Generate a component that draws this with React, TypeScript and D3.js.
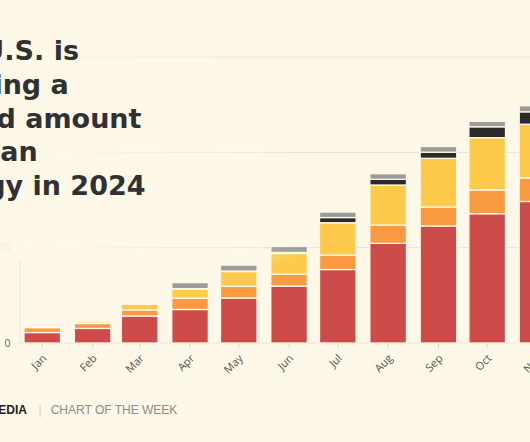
import React from "react";
import * as d3 from "d3";

const months = ["Jan","Feb","Mar","Apr","May","Jun","Jul","Aug","Sep","Oct","Nov"];
const monthIndex = [0,1,2,3,4,5,6,7,8,9,10];
const seriesKeys = ["red","orange","yellow","black","grey"];
const redValues    = [2.2, 3.06, 5.67, 7.03, 9.44, 11.96, 15.42, 20.92, 24.55, 27.14, 29.7];
const orangeValues = [1.0, 1.03, 1.26, 2.35, 2.46, 2.46, 3.04, 3.84, 3.99, 4.97, 4.93];
const yellowValues = [0, 0.32, 1.2, 1.95, 3.11, 4.37, 6.78, 8.39, 10.22, 10.98, 11.29];
const blackValues  = [0, 0, 0, 0.08, 0.08, 0.21, 1.09, 1.2, 1.28, 2.29, 2.6];
const greyValues   = [0, 0, 0, 1.26, 1.26, 1.26, 1.15, 1.18, 1.2, 1.15, 1.28];
const yTicks = [0, 20, 40, 60];
const titleLines = ["The U.S. is", "building a", "record amount", "of clean", "energy in 2024"];

const W = 530, H = 442;
const BG = "#FDF8E8";
const colors: Record<string, string> = {
  red: "#CD4C49",
  orange: "#F99A42",
  yellow: "#FFCA4B",
  black: "#2B2A29",
  grey: "#9C9B97",
};

export default function App() {
  const rows = months.map((m, i) => ({
    month: m,
    date: new Date(2024, monthIndex[i], 1),
    red: redValues[i],
    orange: orangeValues[i],
    yellow: yellowValues[i],
    black: blackValues[i],
    grey: greyValues[i],
  }));
  const stacked = d3.stack<any>().keys(seriesKeys)(rows);

  const x = d3
    .scaleTime()
    .domain([new Date(2024, 0, 1), new Date(2024, 9, 1)])
    .range([42.3, 487.2]);
  const y = d3.scaleLinear().domain([0, 60]).range([343, 57.1]);
  const barW = 36.6;

  return (
    <svg
      width={W}
      height={H}
      style={{ position: "absolute", left: 0, top: 0, background: BG }}
    >
      <defs>
        <linearGradient id="fade" x1="0" x2="1" y1="0" y2="0">
          <stop offset="0" stopColor={BG} stopOpacity={0.93} />
          <stop offset="0.3" stopColor={BG} stopOpacity={0.8} />
          <stop offset="1" stopColor={BG} stopOpacity={0} />
        </linearGradient>
      </defs>
      <rect x={0} y={0} width={W} height={H} fill={BG} />
      {/* gridlines */}
      {yTicks.map((t) => (
        <line key={t} x1={18} x2={W} y1={y(t)} y2={y(t)} stroke="#EAE5E4" strokeWidth={1.2} />
      ))}
      <line x1={20} x2={20} y1={y(60)} y2={y(0)} stroke="#ECE8E2" strokeWidth={1} />
      {yTicks.map((t) => (
        <text key={"l" + t} x={10.5} y={y(t)} dy="0.35em" textAnchor="end"
          fontFamily="Open Sans, sans-serif" fontSize={10.5} fill="#666">{t}</text>
      ))}
      {/* x ticks */}
      {rows.map((r) => (
        <line key={"t" + r.month} x1={x(r.date)} x2={x(r.date)} y1={344} y2={348} stroke="#DDD9D0" />
      ))}
      {/* bars */}
      {stacked.map((s) => (
        <g key={s.key} fill={colors[s.key]}>
          {s.map((d: any, i: number) =>
            d[1] - d[0] > 0 ? (
              <rect
                key={i}
                x={x(rows[i].date) - barW / 2}
                y={y(d[1])}
                width={barW}
                height={y(d[0]) - y(d[1])}
                stroke={BG}
                strokeWidth={1.3}
              />
            ) : null
          )}
        </g>
      ))}
      {/* month labels */}
      {rows.map((r) => (
        <text key={"m" + r.month}
          transform={`translate(${x(r.date) + 5},359) rotate(-45)`}
          textAnchor="end" fontFamily="Open Sans, sans-serif" fontSize={11} fill="#555">
          {r.month}
        </text>
      ))}
      {/* title fade overlay */}
      <rect x={0} y={0} width={300} height={261} fill="url(#fade)" />
      {titleLines.map((line, i) => (
        <text key={line} x={-83} y={60 + i * 33.8} fontFamily="DejaVu Sans, sans-serif"
          fontWeight={700} fontSize={27} fill="#313131">{line}</text>
      ))}
      {/* footer */}
      <text x={27} y={413.5} textAnchor="end" fontFamily="Liberation Sans, Arial, sans-serif"
        fontWeight={700} fontSize={12} fill="#222">MEDIA</text>
      <text x={40} y={413.5} textAnchor="middle" fontFamily="Liberation Sans, Arial, sans-serif"
        fontSize={12} fill="#D4D0C6">|</text>
      <text x={50.7} y={413.5} fontFamily="Liberation Sans, Arial, sans-serif"
        fontSize={12} fill="#8C8C8A">CHART OF THE WEEK</text>
    </svg>
  );
}
